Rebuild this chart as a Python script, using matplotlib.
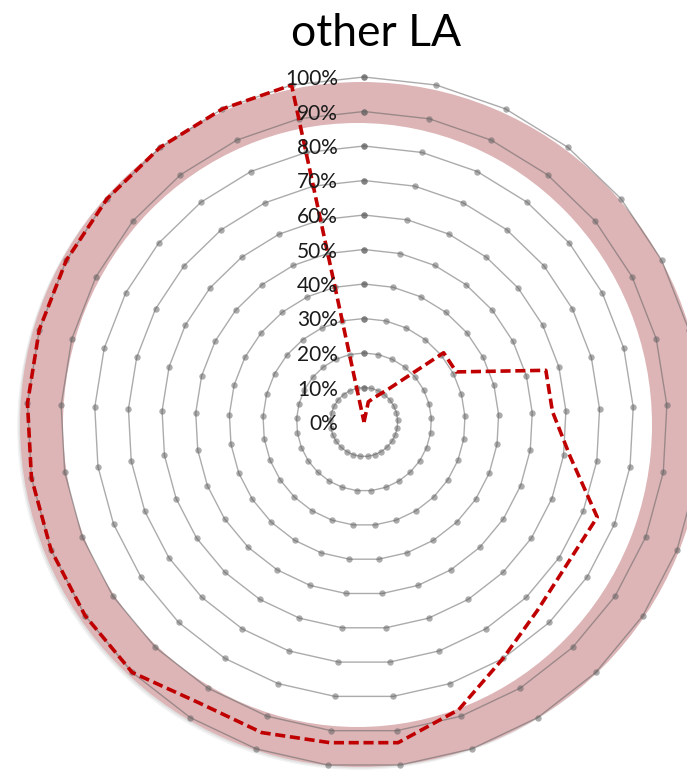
import numpy as np
import matplotlib.pyplot as plt
import matplotlib.patheffects as pe

# 29 spokes, first one pointing straight up, running clockwise
n_spokes = 29

# value rings drawn as grey marker series (10% .. 100%)
ring_levels = [0.1, 0.2, 0.3, 0.4, 0.5, 0.6, 0.7, 0.8, 0.9, 1.0]

# radial tick labels shown along the first spoke
label_levels = [0.0, 0.1, 0.2, 0.3, 0.4, 0.5, 0.6, 0.7, 0.8, 0.9, 1.0]
label_texts = ['0%', '10%', '20%', '30%', '40%', '50%', '60%', '70%', '80%', '90%', '100%']

# "other LA" share per spoke
share_values = [0.00, 0.06, 0.08, 0.12, 0.31, 0.31, 0.56, 0.56, 0.62, 0.745,
                0.73, 0.75, 0.80, 0.88, 0.935, 0.935, 0.95, 0.95, 1.00, 1.00,
                1.00, 1.00, 1.00, 1.00, 1.00, 1.00, 1.00, 1.00, 1.00]

title = 'other LA'

W, H = 687, 773


def closed(values):
    return np.append(values, values[0])


def polar_frame(cx, cy, rx, ry):
    # polar axes whose r=1 lands at rx/ry pixels around (cx, cy)
    ax = fig.add_axes([(cx - rx) / W, (H - cy - ry) / H, 2 * rx / W, 2 * ry / H],
                      projection='polar')
    ax.set_aspect('auto')
    ax.set_theta_zero_location('N')
    ax.set_theta_direction(-1)
    ax.set_ylim(0, 1)
    ax.axis('off')
    return ax


fig = plt.figure(figsize=(W / 100, H / 100), dpi=100)
fig.patch.set_facecolor('white')

# pink highlight ring = pink disc with a white hole punched in it
ax_outer = polar_frame(361.6, 424.5, 341.6, 342.5)
outer = ax_outer.bar(0, 1, width=2 * np.pi, bottom=0, align='edge',
                     color='#ddb5b7', edgecolor='none', clip_on=False)[0]
outer.set_path_effects([pe.SimplePatchShadow(offset=(-2, -2), shadow_rgbFace='0.3', alpha=0.08),
                        pe.SimplePatchShadow(offset=(-1, -1), shadow_rgbFace='0.3', alpha=0.10),
                        pe.Normal()])

# the hole's seam and the rim stroke both start at the bottom, where the
# down-left shade is clipped away
ax_hole = polar_frame(357.5, 425, 294.5, 302)
hole = ax_hole.bar(np.pi, 1, width=2 * np.pi, bottom=0, align='edge',
                   color='white', edgecolor='none', clip_on=False)[0]
rim_t = np.linspace(np.pi, 3 * np.pi, 361)
rim = ax_hole.plot(rim_t, np.ones_like(rim_t), color='none',
                   solid_capstyle='butt', clip_on=True)[0]
rim.set_clip_path(hole)
rim.set_path_effects([pe.Stroke(offset=(-2.5, -2.5), linewidth=5, foreground='0.35', alpha=0.06),
                      pe.Stroke(offset=(-1.5, -1.5), linewidth=3, foreground='0.35', alpha=0.08)])

# radar: centre at (364, 422) px, slightly wider than tall
ax = polar_frame(364, 422, 337, 345)

theta = np.linspace(0, 2 * np.pi, n_spokes, endpoint=False)
theta_c = closed(theta)

# grey rings with markers at every spoke
for lvl in ring_levels:
    ax.plot(theta_c, closed(np.full(n_spokes, lvl)), color='#5f5f5f', alpha=0.52,
            linewidth=1.0, marker='o', markersize=4.6, markeredgewidth=0,
            zorder=2, clip_on=False)

# dashed share line
ax.plot(theta_c, closed(share_values), color='#c00000', linewidth=2.6,
        linestyle=(0, (2.8, 1.3)), zorder=4, clip_on=False)

# radial labels to the left of the first spoke
for lvl, txt in zip(label_levels, label_texts):
    ax.annotate(txt, xy=(0, lvl), xytext=(-26, -2), textcoords='offset pixels',
                ha='right', va='center', fontsize=15, family='Lato',
                color='#1a1a1a', annotation_clip=False, zorder=5)

fig.text(376 / W, 1 - 46 / H, title, ha='center', va='baseline',
         fontsize=32, family='Lato', color='black')

fig.savefig('out.png', dpi=100, facecolor='white')
